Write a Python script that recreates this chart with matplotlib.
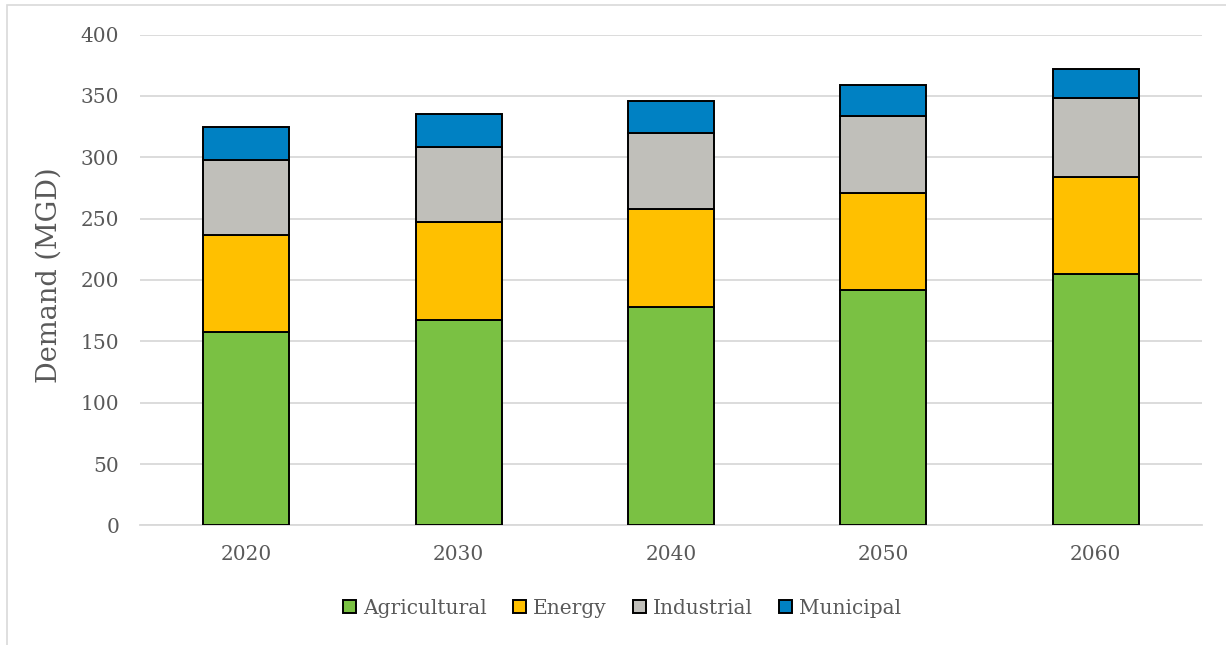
import numpy as np
import matplotlib.pyplot as plt
from matplotlib.patches import Rectangle

# Water demand projections by sector (MGD)
years = ['2020', '2030', '2040', '2050', '2060']
agricultural = [158, 167, 178, 192, 205]
energy = [79, 80, 80, 79, 79]
industrial = [61, 61, 62, 63, 64]
municipal = [27, 27, 26, 25, 24]

sectors = ['Agricultural', 'Energy', 'Industrial', 'Municipal']
colors = ['#7AC143', '#FFC000', '#C0BFBA', '#0081C3']
TEXT = '#595959'
GRID = '#D9D9D9'

plt.rcParams['font.family'] = ['DejaVu Serif']

fig = plt.figure(figsize=(12.26, 6.45), dpi=100)
ax = fig.add_axes([0.1142, 0.1853, 0.866, 0.7612])

x = np.arange(len(years))
bottom = np.zeros(len(years))
for name, vals, col in zip(sectors, [agricultural, energy, industrial, municipal], colors):
    ax.bar(x, vals, width=0.405, bottom=bottom, color=col, edgecolor='black',
           linewidth=1.4, label=name, zorder=3)
    bottom += np.array(vals)

ax.set_xlim(-0.5, len(years) - 0.5)
ax.set_ylim(0, 400)
ax.set_yticks(range(0, 401, 50))
ax.set_xticks(x)
ax.set_xticklabels(years)
ax.tick_params(axis='both', length=0, labelsize=14.5, colors=TEXT)
ax.tick_params(axis='y', pad=15)
ax.tick_params(axis='x', pad=14)
ax.grid(axis='y', color=GRID, linewidth=1.3, zorder=0)
for side in ['top', 'right', 'left']:
    ax.spines[side].set_visible(False)
ax.spines['bottom'].set_color(GRID)
ax.spines['bottom'].set_linewidth(1.3)

fig.text(49 / 1226, 1 - 275 / 645, 'Demand (MGD)', rotation=90, ha='center',
         va='center', fontsize=19.5, color=TEXT)

handles = [Rectangle((0, 0), 1, 1, facecolor=c, edgecolor='black', linewidth=1.4)
           for c in colors]
fig.legend(handles, sectors, loc='center', bbox_to_anchor=(622 / 1226, 1 - 608 / 645),
           ncol=4, frameon=False, fontsize=14.5, labelcolor=TEXT,
           handlelength=0.65, handleheight=0.65, handletextpad=0.35, columnspacing=1.3)

# thin chart-area border
fig.add_artist(Rectangle((7 / 1226, -0.1), 1.2, 1 - 5 / 645 + 0.1, transform=fig.transFigure,
                         fill=False, edgecolor='#D9D9D9', linewidth=1.2))

fig.savefig('out.png', dpi=100)
